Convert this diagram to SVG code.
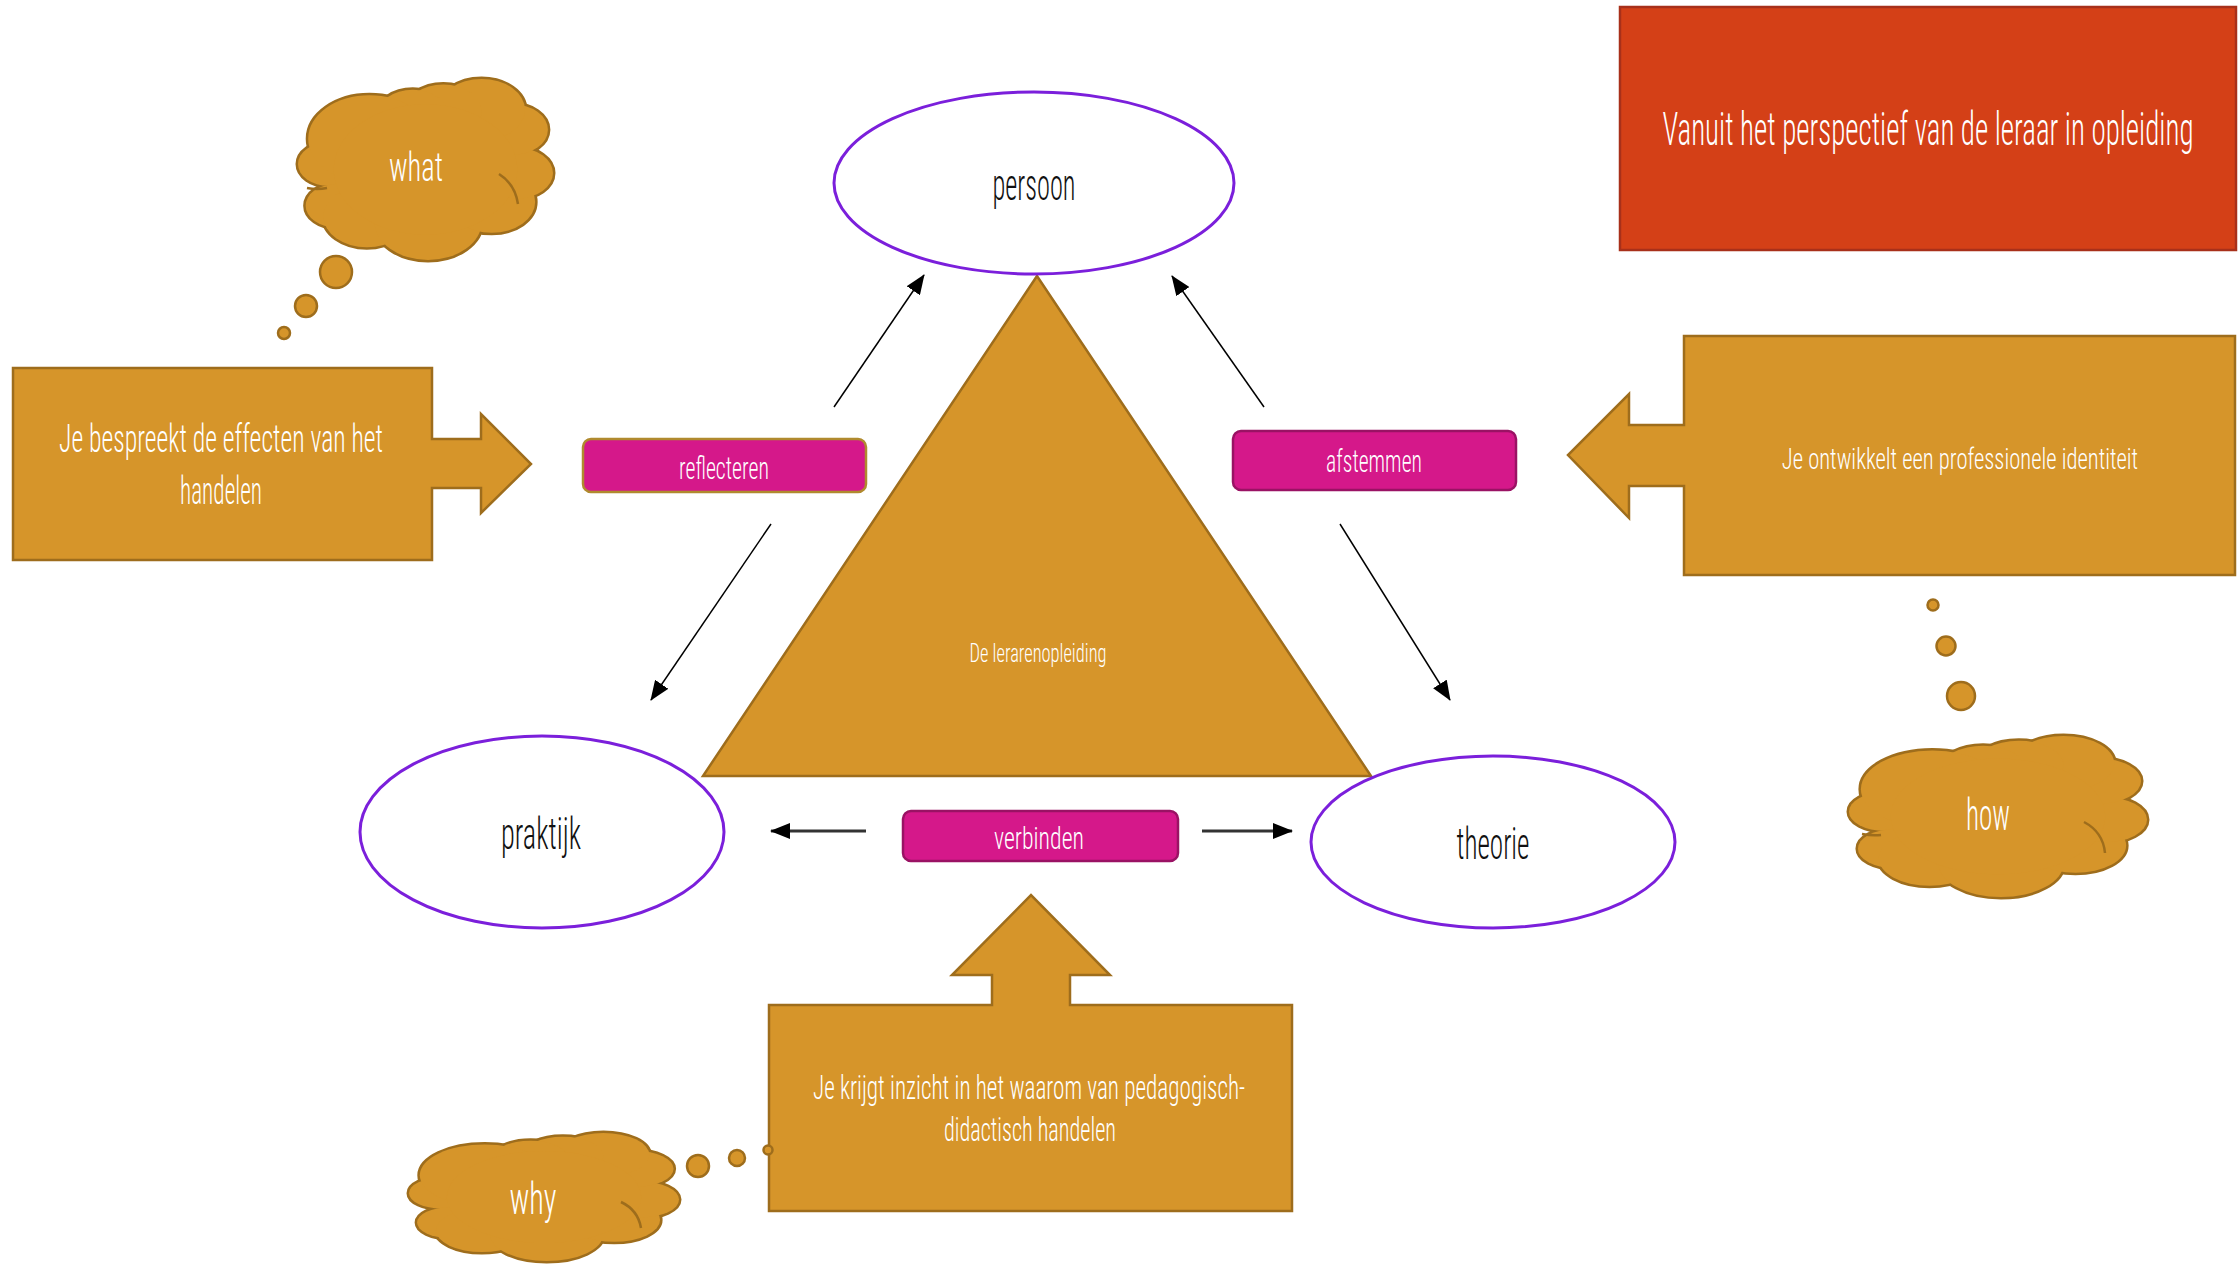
<svg xmlns="http://www.w3.org/2000/svg" xmlns:xlink="http://www.w3.org/1999/xlink" width="2240" height="1264" viewBox="0 0 2240 1264">
<style>
  .t { font-family: "Roboto Condensed", "Open Sans", "Lato", "Liberation Sans", sans-serif; font-weight: 300; font-stretch: condensed; text-anchor: middle; }
  .w { fill: #ffffff; }
  .k { fill: #111111; }
  .gold { fill: #D6952A; stroke: #9E6D1C; stroke-width: 2.5; }
  .ell { fill: #ffffff; stroke: #7B1FDB; stroke-width: 3; }
  .mag1 { fill: #D5188A; stroke: #B08A2E; stroke-width: 2.5; }
  .mag2 { fill: #D5188A; stroke: #9A1264; stroke-width: 2.5; }
  .cl-out { fill: #D6952A; stroke: #9E6D1C; stroke-width: 5; }
  .cl-in { fill: #D6952A; stroke: none; }
  .stub { fill: none; stroke: #9E6D1C; stroke-width: 2.5; }
  .thin { stroke: #000; stroke-width: 1.5; fill: none; }
  .thick { stroke: #333; stroke-width: 3; fill: none; }
</style>
<defs>
  <marker id="ah" markerUnits="userSpaceOnUse" markerWidth="20" markerHeight="16" refX="19" refY="8" orient="auto">
    <path d="M0,0 L20,8 L0,16 Z" fill="#000"/>
  </marker>
  <g id="cc">
    <ellipse vector-effect="non-scaling-stroke" cx="12" cy="47" rx="12" ry="12"/>
    <ellipse vector-effect="non-scaling-stroke" cx="15" cy="70" rx="12" ry="12"/>
    <ellipse vector-effect="non-scaling-stroke" cx="27" cy="76" rx="17" ry="17"/>
    <ellipse vector-effect="non-scaling-stroke" cx="51" cy="79" rx="21" ry="21"/>
    <ellipse vector-effect="non-scaling-stroke" cx="76" cy="68" rx="17" ry="17"/>
    <ellipse vector-effect="non-scaling-stroke" cx="86" cy="52" rx="14" ry="14"/>
    <ellipse vector-effect="non-scaling-stroke" cx="84" cy="28" rx="14" ry="14"/>
    <ellipse vector-effect="non-scaling-stroke" cx="72" cy="17" rx="17" ry="17"/>
    <ellipse vector-effect="non-scaling-stroke" cx="57" cy="18" rx="15" ry="15"/>
    <ellipse vector-effect="non-scaling-stroke" cx="45" cy="20" rx="14" ry="14"/>
    <ellipse vector-effect="non-scaling-stroke" cx="28" cy="33" rx="24" ry="24"/>
    <ellipse vector-effect="non-scaling-stroke" cx="50" cy="50" rx="36" ry="36"/>
  </g>
</defs>

<g id="connectors">
  <line class="thin" x1="834" y1="407" x2="924" y2="275" marker-end="url(#ah)"/>
  <line class="thin" x1="1264" y1="407" x2="1172" y2="276" marker-end="url(#ah)"/>
  <line class="thin" x1="771" y1="524" x2="651" y2="700" marker-end="url(#ah)"/>
  <line class="thin" x1="1340" y1="524" x2="1450" y2="700" marker-end="url(#ah)"/>
  <line class="thick" x1="866" y1="831" x2="771" y2="831" marker-end="url(#ah)"/>
  <line class="thick" x1="1202" y1="831" x2="1292" y2="831" marker-end="url(#ah)"/>
</g>

<g id="node-title">
  <rect x="1620" y="7" width="616" height="243" fill="#D44017" stroke="#A8301A" stroke-width="2.5"/>
  <text class="t w" transform="translate(1928,145) scale(0.6,1)" x="0" y="0" font-size="46" textLength="885" lengthAdjust="spacingAndGlyphs">Vanuit het perspectief van de leraar in opleiding</text>
</g>

<g id="node-triangle">
  <polygon class="gold" points="1037,276 703,776 1371,776"/>
  <text class="t w" x="1038" y="662" font-size="26" textLength="137" lengthAdjust="spacingAndGlyphs">De lerarenopleiding</text>
</g>

<g id="node-persoon">
  <ellipse class="ell" cx="1034" cy="183" rx="200" ry="91"/>
  <text class="t k" x="1034" y="200" font-size="44" textLength="83" lengthAdjust="spacingAndGlyphs">persoon</text>
</g>

<g id="node-praktijk">
  <ellipse class="ell" cx="542" cy="832" rx="182" ry="96"/>
  <text class="t k" x="541" y="849" font-size="44" textLength="80" lengthAdjust="spacingAndGlyphs">praktijk</text>
</g>

<g id="node-theorie">
  <ellipse class="ell" cx="1493" cy="842" rx="182" ry="86"/>
  <text class="t k" x="1493" y="859" font-size="44" textLength="73" lengthAdjust="spacingAndGlyphs">theorie</text>
</g>

<g id="node-reflecteren">
  <rect class="mag1" x="583" y="439" width="283" height="53" rx="8"/>
  <text class="t w" x="724" y="479" font-size="32" textLength="90" lengthAdjust="spacingAndGlyphs">reflecteren</text>
</g>

<g id="node-afstemmen">
  <rect class="mag2" x="1233" y="431" width="283" height="59" rx="8"/>
  <text class="t w" x="1374" y="472" font-size="32" textLength="96" lengthAdjust="spacingAndGlyphs">afstemmen</text>
</g>

<g id="node-verbinden">
  <rect class="mag2" x="903" y="811" width="275" height="50" rx="8"/>
  <text class="t w" x="1039" y="849" font-size="32" textLength="90" lengthAdjust="spacingAndGlyphs">verbinden</text>
</g>

<g id="node-what-box">
  <path class="gold" d="M13,368 H432 V439 H481 V414 L531,464 L481,513 V488 H432 V560 H13 Z"/>
  <text class="t w" x="221" y="452" font-size="38" textLength="324" lengthAdjust="spacingAndGlyphs">Je bespreekt de effecten van het</text>
  <text class="t w" x="221" y="504" font-size="38" textLength="82" lengthAdjust="spacingAndGlyphs">handelen</text>
</g>

<g id="node-how-box">
  <path class="gold" d="M2235,336 V575 H1684 V486 H1629 V518 L1568,455 L1629,394 V425 H1684 V336 Z"/>
  <text class="t w" transform="translate(1960,469) scale(0.7,1)" x="0" y="0" font-size="30" textLength="509" lengthAdjust="spacingAndGlyphs">Je ontwikkelt een professionele identiteit</text>
</g>

<g id="node-why-box">
  <path class="gold" d="M769,1005 H992 V975 H952 L1031,895 L1110,975 H1070 V1005 H1292 V1211 H769 Z"/>
  <text class="t w" x="1029" y="1099" font-size="34" textLength="432" lengthAdjust="spacingAndGlyphs">Je krijgt inzicht in het waarom van pedagogisch-</text>
  <text class="t w" x="1030" y="1141" font-size="34" textLength="172" lengthAdjust="spacingAndGlyphs">didactisch handelen</text>
</g>

<g id="node-what-cloud">
  <g transform="translate(298,79) scale(2.55,1.81)">
    <use xlink:href="#cc" class="cl-out"/>
    <use xlink:href="#cc" class="cl-in"/>
  </g>
  <path class="stub" d="M499,174 Q515,184 518,204"/>
  <path class="stub" d="M307,188 Q317,190 327,188"/>
  <circle class="gold" cx="336" cy="272" r="16"/>
  <circle class="gold" cx="306" cy="306" r="11"/>
  <circle class="gold" cx="284" cy="333" r="6"/>
  <text class="t w" x="416" y="181" font-size="40" textLength="54" lengthAdjust="spacingAndGlyphs">what</text>
</g>

<g id="node-how-cloud">
  <g transform="translate(1849,736) scale(2.98,1.61)">
    <use xlink:href="#cc" class="cl-out"/>
    <use xlink:href="#cc" class="cl-in"/>
  </g>
  <path class="stub" d="M2084,822 Q2103,832 2105,853"/>
  <path class="stub" d="M1862,834 Q1872,836 1881,835"/>
  <circle class="gold" cx="1933" cy="605" r="5.5"/>
  <circle class="gold" cx="1946" cy="646" r="9.5"/>
  <circle class="gold" cx="1961" cy="696" r="14"/>
  <text class="t w" x="1988" y="830" font-size="44" textLength="44" lengthAdjust="spacingAndGlyphs">how</text>
</g>

<g id="node-why-cloud">
  <g transform="translate(409,1133) scale(2.70,1.28)">
    <use xlink:href="#cc" class="cl-out"/>
    <use xlink:href="#cc" class="cl-in"/>
  </g>
  <path class="stub" d="M621,1202 Q638,1210 641,1228"/>
  <circle class="gold" cx="768" cy="1150" r="4.5"/>
  <circle class="gold" cx="737" cy="1158" r="8"/>
  <circle class="gold" cx="698" cy="1166" r="11"/>
  <text class="t w" x="533" y="1214" font-size="44" textLength="47" lengthAdjust="spacingAndGlyphs">why</text>
</g>
</svg>
